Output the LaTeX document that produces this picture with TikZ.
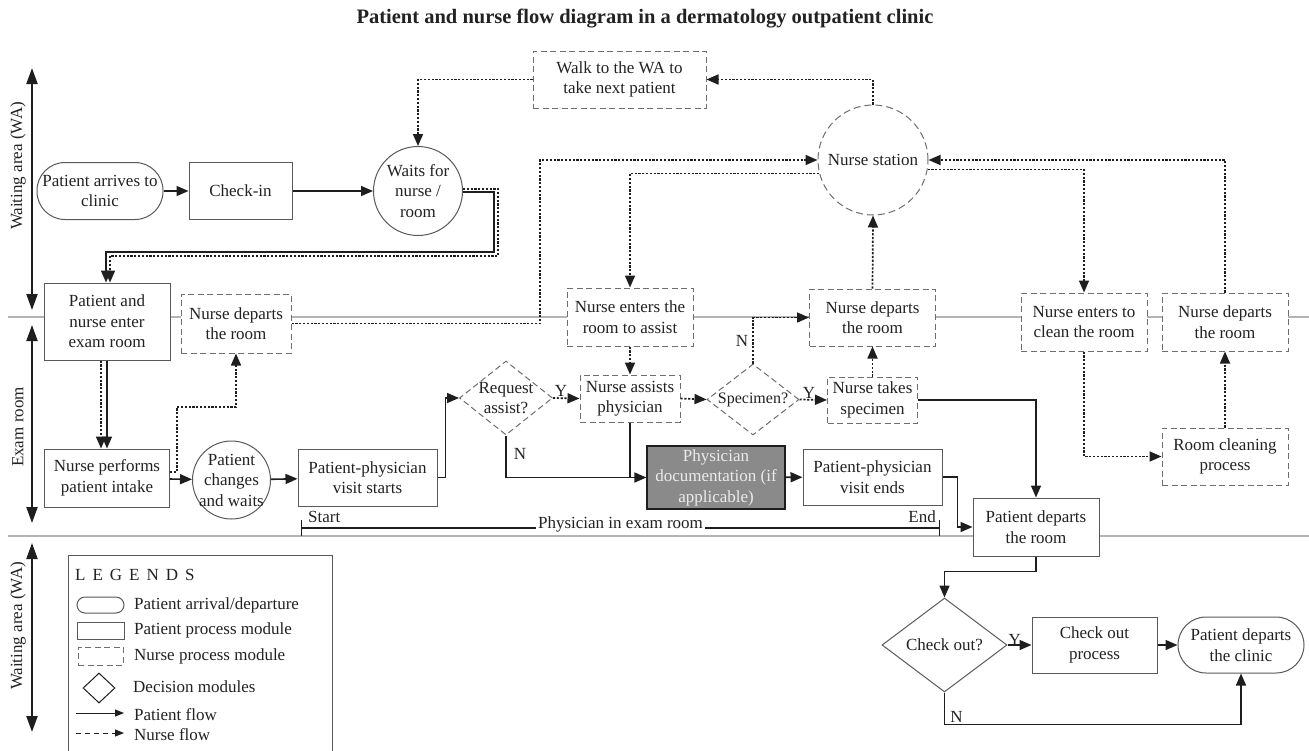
\documentclass[tikz,border=0pt]{standalone}
\usepackage{fontspec}
\setmainfont{Liberation Serif}
\usetikzlibrary{arrows.meta,shapes.geometric,calc}
\definecolor{boxc}{HTML}{595959}
\definecolor{dashc}{HTML}{6E6E6E}
\definecolor{lanec}{HTML}{B4B4B4}
\definecolor{flowc}{HTML}{1E1E1E}
\definecolor{txtc}{HTML}{222222}
\definecolor{docfill}{HTML}{8A8A8A}
\newcommand{\nfnt}{\fontsize{17pt}{20.5pt}\selectfont}
\newcommand{\sfnt}{\fontsize{16pt}{19pt}\selectfont}
\newcommand{\tfnt}{\bfseries\fontsize{20.5pt}{24pt}\selectfont}
\begin{document}
\begin{tikzpicture}[x=1pt,y=-1pt,
  base/.style={font=\nfnt, text=txtc, align=center, inner sep=0pt, fill=white},
  sz/.style 2 args={minimum width=#1pt, minimum height=#2pt},
  pbox/.style={base, draw=boxc, line width=1pt, rectangle},
  nbox/.style={base, draw=dashc, line width=1pt, dash pattern=on 6pt off 3.5pt, rectangle},
  term/.style={pbox, rounded corners=28pt},
  pcirc/.style={base, draw=boxc, line width=1pt, circle},
  ncirc/.style={base, draw=dashc, line width=1pt, dash pattern=on 7pt off 4pt, circle},
  pdec/.style={base, draw=boxc, line width=1pt, diamond},
  ndec/.style={base, draw=dashc, line width=1pt, dash pattern=on 6pt off 3.5pt, diamond},
  docbox/.style={base, draw=flowc, line width=1.2pt, fill=docfill, text=white!92!black, rectangle},
  pflow/.style={draw=flowc, line width=1.6pt, -{Triangle[length=12pt,width=10pt]}},
  pline/.style={draw=flowc, line width=1.6pt},
  nflow/.style={draw=flowc, line width=1.7pt, dash pattern=on 2.2pt off 1.6pt, -{Triangle[length=12pt,width=10pt]}},
  lane/.style={draw=lanec, line width=1.3pt},
  zonearrow/.style={draw=flowc, line width=2pt, {Triangle[length=16pt,width=11pt]}-{Triangle[length=16pt,width=11pt]}},
  lbl/.style={font=\nfnt, text=txtc, inner sep=1pt}
]
\useasboundingbox (0,0) rectangle (1309,750);

% lane separators
\draw[lane] (8,317) -- (1309,317);
\draw[lane] (8,536) -- (1309,536);

% title
\node[font=\tfnt, text=txtc] (title) at (645,19) {Patient and nurse flow diagram in a dermatology outpatient clinic};

% zone arrows and labels
\coordinate (za1) at (32,68); \coordinate (zb1) at (32,310);
\coordinate (za2) at (32,325); \coordinate (zb2) at (32,523);
\coordinate (za3) at (32,543); \coordinate (zb3) at (32,732);
\draw[zonearrow] (za1) -- (zb1);
\draw[zonearrow] (za2) -- (zb2);
\draw[zonearrow] (za3) -- (zb3);
\node[lbl, rotate=90] (zl1) at (18,166) {Waiting area (WA)};
\node[lbl, rotate=90] (zl2) at (18,427) {Exam room};
\node[lbl, rotate=90] (zl3) at (18,626) {Waiting area (WA)};

% nodes
\node[term, sz={126}{57}] (arr) at (100,191) {Patient arrives to\\clinic};
\node[pbox, sz={103}{57}] (chk) at (240.5,191) {Check-in};
\node[pcirc, minimum size=89pt] (wait) at (418,191) {Waits for\\nurse /\\room};
\node[nbox, sz={173}{57}] (walk) at (619.5,79.5) {Walk to the WA to\\take next patient};
\node[ncirc, minimum size=110pt] (ns) at (873,160) {Nurse station};
\node[pbox, sz={126}{77}] (pne) at (107,321.5) {Patient and\\nurse enter\\exam room};
\node[nbox, sz={110}{59}] (ndl) at (236,323.5) {Nurse departs\\the room};
\node[pbox, sz={125}{58}] (intake) at (107,478) {Nurse performs\\patient intake};
\node[pcirc, minimum size=78pt, label={[font=\nfnt,text=txtc,align=center]center:{Patient\\changes\\and waits}}] (chg) at (231.5,480) {};
\node[pbox, sz={139}{57}] (vs) at (367.5,477.5) {Patient-physician\\visit starts};
\node[ndec, sz={93}{74}, label={[font=\nfnt,text=txtc,align=center]center:{Request\\assist?}}] (req) at (506,398) {};
\node[nbox, sz={100}{47}] (nap) at (630,398.5) {Nurse assists\\physician};
\node[nbox, sz={126}{58}] (nea) at (630,317) {Nurse enters the\\room to assist};
\node[ndec, sz={92}{71}, label={[font=\sfnt,text=txtc]center:{Specimen?}}] (spec) at (753,399.5) {};
\node[nbox, sz={90}{46}] (nts) at (872.5,400) {Nurse takes\\specimen};
\node[nbox, sz={126}{57}] (ndm) at (872.5,317.5) {Nurse departs\\the room};
\node[docbox, sz={138}{63}] (doc) at (716,477.5) {Physician\\documentation (if\\applicable)};
\node[pbox, sz={139}{56}] (ve) at (872.5,477) {Patient-physician\\visit ends};
\node[nbox, sz={126}{58}] (nec) at (1084,322) {Nurse enters to\\clean the room};
\node[nbox, sz={126}{58}] (ndr) at (1225,322) {Nurse departs\\the room};
\node[nbox, sz={126}{57}] (rc) at (1225,456.5) {Room cleaning\\process};
\node[pbox, sz={126}{58}] (pdr) at (1036,527) {Patient departs\\the room};
\node[pdec, sz={125}{94}, label={[font=\nfnt,text=txtc]center:{Check out?}}] (co) at (944.5,645) {};
\node[pbox, sz={125}{56}] (cop) at (1094.5,645) {Check out\\process};
\node[term, sz={126}{56}] (pdc) at (1241,645) {Patient departs\\the clinic};

% connectors
\draw[pflow] (arr.east) -- (chk.west);
\draw[pflow] (chk.east) -- (wait.west);
\draw[pflow] ([yshift=-1pt]wait.east) -- (494,192) -- (494,252) -| ([xshift=-1pt]pne.north);
\draw[nflow] ([yshift=2pt]wait.east) -- (498,189) -- (498,256) -| ([xshift=3pt]pne.north);
\draw[pflow] (pne.south) -- (intake.north);
\draw[nflow] ([xshift=-6pt]pne.south) -- ([xshift=-6pt]intake.north);
\draw[pflow] (intake) -- (chg);
\draw[nflow] ([yshift=6pt]intake.east) -| (177,407) -| (ndl.south);
\draw[pflow] (chg) -- (vs);
\draw[pflow] (vs.east) -- ++(8,0) |- (req.west);
\draw[nflow] (req.east) -- node[lbl, pos=0.3, above=0pt] (yl1) {Y} (nap.west);
\draw[pflow] (req.south) -- node[lbl, pos=0.45, right=6pt] (nl1) {N} (req.south |- doc.west) -- (doc.west);
\draw[pline] (nap.south) -- (nap.south |- doc.west);
\draw[nflow] (nea) -- (nap);
\draw[nflow] (ns.194) -| (nea.north);
\draw[nflow] (ndl.east) -- (540,323.5) |- (ns.west);
\draw[nflow] (ns.north) |- (walk.east);
\draw[nflow] (walk.west) -| (wait.north);
\draw[nflow] (nap.east) -- (spec.west);
\draw[nflow] (spec.north) -- node[lbl, pos=0.5, left=3pt] (nl2) {N} (spec.north |- ndm.west) -- (ndm.west);
\draw[nflow] (spec.east) -- node[lbl, pos=0.35, above=-1pt] (yl2) {Y} (nts.west);
\draw[nflow] (nts) -- (ndm);
\draw[pflow] (nts.east) -| (pdr.north);
\draw[pflow] (doc) -- (ve);
\draw[pflow] (ve.east) -- ++(15,0) |- (pdr.west);
\draw[nflow] (ndm.north) -- (ns.south);
\draw[nflow] (ns.350) -| (nec.north);
\draw[nflow] (ndr.north) |- (ns.east);
\draw[nflow] (nec.south) |- (rc.west);
\draw[nflow] (rc) -- (ndr);
\draw[pflow] (pdr.south) -- ++(0,15) -| (co.north);
\draw[pflow] (co.east) -- node[lbl, pos=0.3, above=-2pt] (yl3) {Y} (cop.west);
\draw[pflow] (cop) -- (pdc);
\draw[pflow] (co.south) -- node[lbl, pos=0.75, right=4pt] (nl3) {N} ++(0,32) -| (pdc.south);

% physician in exam room bracket
\coordinate (brs) at (301,528);
\coordinate (bre) at (940,528);
\draw[draw=flowc, line width=1.2pt, {Bar[width=16pt]}-{Bar[width=16pt]}] (brs) -- node[lbl, fill=white, inner sep=2pt, yshift=4pt] (phy) {Physician in exam room} (bre);
\node[lbl, anchor=west] (stl) at (307,517) {Start};
\node[lbl, anchor=east] (enl) at (937,517) {End};

% legend
\draw[draw=boxc, line width=1pt] (68,752) -- (68,555) -- (332,555) -- (332,752);
\node[lbl, anchor=west] (lgt) at (74,575) {L\hspace{7pt}E\hspace{7pt}G\hspace{7pt}E\hspace{7pt}N\hspace{7pt}D\hspace{7pt}S};
\node[pbox, sz={47}{16}, rounded corners=8pt] (lg1) at (100.5,605) {};
\node[pbox, sz={47}{17}] (lg2) at (100.5,630.5) {};
\node[nbox, sz={45}{18}] (lg3) at (100.5,656) {};
\node[pdec, draw=flowc, sz={32}{30}] (lg4) at (99,688) {};
\node[lbl, anchor=west] (lt1) at (133,605) {Patient arrival/departure};
\node[lbl, anchor=west] (lt2) at (133,630) {Patient process module};
\node[lbl, anchor=west] (lt3) at (133,656) {Nurse process module};
\node[lbl, anchor=west] (lt4) at (132,687) {Decision modules};
\node[lbl, anchor=west] (lt5) at (133,715) {Patient flow};
\node[lbl, anchor=west] (lt6) at (133,735) {Nurse flow};
\coordinate (lpa) at (76,713); \coordinate (lpb) at (124,713);
\coordinate (lna) at (76,733); \coordinate (lnb) at (124,733);
\draw[draw=flowc, line width=1pt, -{Triangle[length=9pt,width=7pt]}] (lpa) -- (lpb);
\draw[draw=flowc, line width=1pt, dash pattern=on 5pt off 4pt, -{Triangle[length=9pt,width=7pt]}] (lna) -- (lnb);
\end{tikzpicture}
\end{document}
